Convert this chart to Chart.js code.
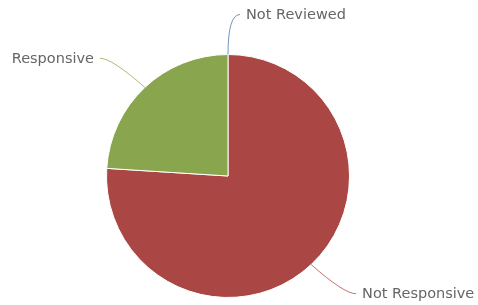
<!DOCTYPE html>
<html>
<head>
<meta charset="utf-8">
<script src="https://cdn.jsdelivr.net/npm/chart.js@4/dist/chart.umd.min.js"></script>
<style>
  html, body { margin: 0; padding: 0; background: #fff; }
  #wrap { width: 478px; height: 305px; }
</style>
</head>
<body>
<div id="wrap"><canvas id="pie" width="478" height="305"></canvas></div>
<script>
// Review status breakdown
const categories = ['Not Reviewed', 'Not Responsive', 'Responsive'];
const values     = [0, 76, 24];
const colors     = ['#4572A7', '#AA4643', '#89A54E'];

// Highcharts-style data labels with soft connectors
const pieLabels = {
    id: 'pieLabels',
    afterDatasetsDraw(chart) {
        const ctx = chart.ctx;
        const arcs = chart.getDatasetMeta(0).data;
        ctx.save();
        ctx.font = '14.5px "DejaVu Sans", Verdana, sans-serif';
        ctx.textBaseline = 'middle';
        arcs.forEach((arc, i) => {
            const { x, y, startAngle, endAngle, outerRadius } = arc.getProps(['x', 'y', 'startAngle', 'endAngle', 'outerRadius'], true);
            const a = (startAngle + endAngle) / 2;
            const cos = Math.cos(a), sin = Math.sin(a);
            const ex = x + outerRadius * cos, ey = y + outerRadius * sin;
            const bx = x + (outerRadius + 48) * cos, by = y + (outerRadius + 40) * sin;
            const right = cos >= -0.001;
            const tx = bx + (right ? 12 : -12);

            ctx.strokeStyle = colors[i];
            ctx.globalAlpha = 0.75;
            ctx.lineWidth = 1;
            ctx.beginPath();
            ctx.moveTo(ex, ey);
            ctx.quadraticCurveTo(bx, by, tx, by);
            ctx.stroke();
            ctx.globalAlpha = 1;

            ctx.fillStyle = '#666666';
            ctx.textAlign = right ? 'left' : 'right';
            ctx.fillText(categories[i], tx + (right ? 6 : -6), by + 1);
        });
        ctx.restore();
    }
};

new Chart(document.getElementById('pie'), {
    type: 'pie',
    data: {
        labels: categories,
        datasets: [{
            data: values,
            backgroundColor: colors,
            borderColor: '#ffffff',
            borderWidth: 1
        }]
    },
    options: {
        responsive: false,
        animation: false,
        layout: { padding: { top: 54, bottom: 7, left: 106, right: 128 } },
        plugins: {
            legend: { display: false },
            tooltip: { enabled: false }
        }
    },
    plugins: [pieLabels]
});
</script>
</body>
</html>
